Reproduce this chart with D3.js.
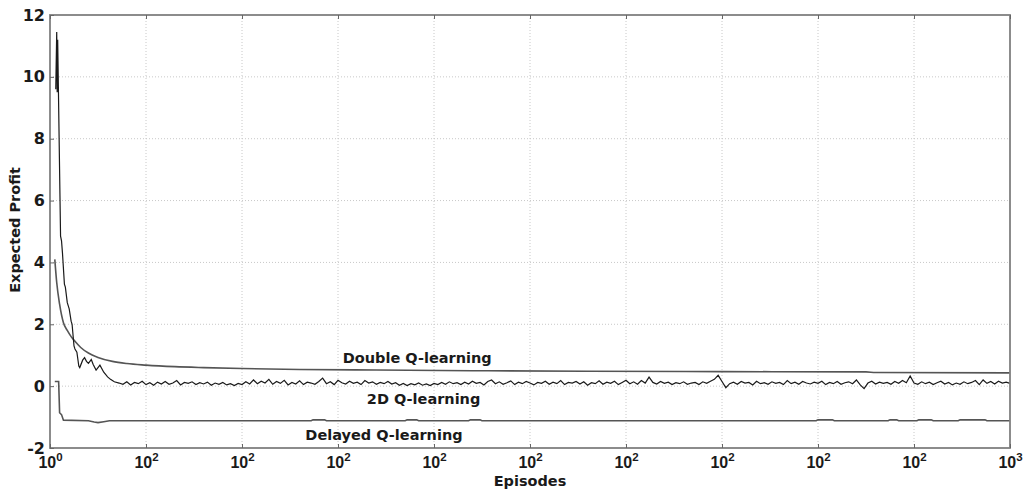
<!DOCTYPE html>
<html>
<head>
<meta charset="utf-8">
<script src="https://cdn.jsdelivr.net/npm/d3@7"></script>
<style>
  body { margin: 0; background: #fff; }
  svg { font-family: "DejaVu Sans", Verdana, sans-serif; font-weight: bold; }
</style>
</head>
<body>
<div id="graph"></div>
<script>
// ---- data ----
var xTicks = [0, 100, 200, 300, 400, 500, 600, 700, 800, 900, 1000];
var xTickBase = "10";
var xTickExp = ["0", "2", "2", "2", "2", "2", "2", "2", "2", "2", "3"];
var yTicks = [-2, 0, 2, 4, 6, 8, 10, 12];

// Double Q-learning (smooth decay)
var doubleEp  = [5, 7, 10, 14, 18, 22, 26, 32, 40, 50, 65, 80, 100, 130, 160, 200, 260, 340, 440, 560, 700, 850, 860, 1000];
var doubleVal = [4.1, 3.35, 2.65, 2.05, 1.8, 1.6, 1.45, 1.25, 1.07, 0.93, 0.8, 0.73, 0.68, 0.63, 0.6, 0.57, 0.54, 0.52, 0.5, 0.48, 0.47, 0.46, 0.44, 0.43];

// 2D Q-learning, early transient
var q2dEarlyEp  = [6, 7, 7.5, 8, 11, 12, 13, 15, 16, 18, 20, 22, 23, 25, 26, 28, 30, 31, 34, 36, 38, 40, 43, 45, 48, 50, 52, 56, 60, 63, 67];
var q2dEarlyVal = [9.6, 11.45, 9.5, 11.2, 4.85, 4.7, 4.3, 3.3, 3.2, 2.7, 2.5, 2.1, 2.0, 1.3, 1.2, 1.1, 0.65, 0.6, 0.84, 0.92, 0.8, 0.74, 0.86, 0.7, 0.52, 0.6, 0.68, 0.45, 0.3, 0.22, 0.14];
// 2D Q-learning, steady part, one value every 4 episodes from episode 72
var q2dSteadyStart = 72, q2dSteadyStep = 4;
var q2dSteadyVal = [
  0.10, 0.06, 0.14, 0.04, 0.12, 0.08, 0.16, 0.05, 0.11, 0.03,
  0.13, 0.07, 0.15, 0.06, 0.10, 0.18, 0.04, 0.12, 0.09, 0.14,
  0.05, 0.11, 0.07, 0.13, 0.03, 0.10, 0.06, 0.12, 0.04, 0.08,
  0.02, 0.09, 0.05, 0.14, 0.07, 0.20, 0.08, 0.16, 0.10, 0.22,
  0.06, 0.15, 0.09, 0.19, 0.04, 0.12, 0.07, 0.17, 0.05, 0.13,
  0.10, 0.06, 0.15, 0.26, 0.08, 0.14, 0.05, 0.19, 0.11, 0.07,
  0.16, 0.09, 0.13, 0.05, 0.18, 0.10, 0.14, 0.06, 0.12, 0.08,
  0.15, 0.07, 0.11, 0.03, 0.09, 0.02, 0.08, 0.04, 0.10, 0.03,
  0.07, 0.02, 0.09, 0.05, 0.12, 0.06, 0.14, 0.08, 0.11, 0.05,
  0.13, 0.07, 0.16, 0.09, 0.12, 0.04, 0.15, 0.20, 0.08, 0.14,
  0.06, 0.11, 0.17, 0.05, 0.13, 0.08, 0.15, 0.10, 0.04, 0.12,
  0.09, 0.16, 0.06, 0.13, 0.08, 0.18, 0.05, 0.12, 0.10, 0.15,
  0.07, 0.14, 0.03, 0.11, 0.08, 0.17, 0.06, 0.13, 0.09, 0.16,
  0.05, 0.12, 0.19, 0.08, 0.14, 0.06, 0.18, 0.10, 0.29, 0.12,
  0.07, 0.15, 0.09, 0.13, 0.05, 0.11, 0.08, 0.14, 0.06, 0.10,
  0.12, 0.05, 0.14, 0.09, 0.16, 0.22, 0.35, 0.15, -0.05, 0.08,
  0.13, 0.06, 0.15, 0.10, 0.12, 0.04, 0.16, 0.08, 0.11, 0.06,
  0.14, 0.09, 0.12, 0.05, 0.18, 0.08, 0.13, 0.06, 0.15, 0.10,
  0.07, 0.13, 0.09, 0.16, 0.05, 0.12, 0.08, 0.15, 0.06, 0.11,
  0.14, 0.08, 0.20, 0.04, -0.08, 0.10, 0.16, 0.07, 0.13, 0.09,
  0.12, 0.06, 0.15, 0.09, 0.18, 0.11, 0.33, 0.10, 0.06, 0.14,
  0.08, 0.13, 0.05, 0.11, 0.16, 0.07, 0.12, 0.04, 0.10, 0.06,
  0.14, 0.08, 0.12, 0.18, 0.05, 0.20, 0.09, 0.15, 0.07, 0.16,
  0.10, 0.13, 0.09
];

// Delayed Q-learning (drops, then flat with small dashes)
var delayedEp  = [5, 9, 10, 12, 14, 40, 46, 50, 56, 62, 150, 272, 274, 286, 288, 370, 372, 382, 384, 436, 438, 448, 450, 600, 798, 800, 815, 817, 873, 875, 882, 884, 903, 905, 918, 920, 946, 948, 974, 976, 1000];
var delayedVal = [0.15, 0.15, -0.86, -0.92, -1.1, -1.12, -1.16, -1.18, -1.15, -1.12, -1.12, -1.12, -1.09, -1.09, -1.12, -1.12, -1.09, -1.09, -1.12, -1.12, -1.09, -1.09, -1.12, -1.12, -1.12, -1.09, -1.09, -1.12, -1.12, -1.09, -1.09, -1.12, -1.12, -1.09, -1.09, -1.12, -1.12, -1.09, -1.09, -1.12, -1.12];

// curve labels: text, episode, value (baseline)
var labelText = ["Double Q-learning", "2D Q-learning", "Delayed Q-learning"];
var labelEp   = [305, 330, 266];
var labelVal  = [0.74, -0.58, -1.75];

// ---- layout ----
var margin = {top: 15, right: 25, bottom: 41, left: 50},
    width = 1035 - margin.left - margin.right,
    height = 489 - margin.top - margin.bottom;

var svg = d3.select("#graph")
  .append("svg")
    .attr("width", 1035)
    .attr("height", 489)
  .append("g")
    .attr("transform", "translate(" + margin.left + "," + margin.top + ")");

var x = d3.scaleLinear().domain([0, 1000]).range([0, width]);
var y = d3.scaleLinear().domain([-2, 12]).range([height, 0]);

// gridlines
svg.append("g").selectAll("line.vg")
  .data(xTicks.slice(1, -1)).enter().append("line")
    .attr("x1", function(d) { return x(d); })
    .attr("x2", function(d) { return x(d); })
    .attr("y1", 0).attr("y2", height)
    .attr("stroke", "#c8c8c8").attr("stroke-width", 1)
    .attr("stroke-dasharray", "1,2");
svg.append("g").selectAll("line.hg")
  .data(yTicks.slice(1, -1)).enter().append("line")
    .attr("x1", 0).attr("x2", width)
    .attr("y1", function(d) { return y(d); })
    .attr("y2", function(d) { return y(d); })
    .attr("stroke", "#c8c8c8").attr("stroke-width", 1)
    .attr("stroke-dasharray", "1,2");

// build series
var doubleData = doubleEp.map(function(e, i) { return [e, doubleVal[i]]; });
var q2dData = q2dEarlyEp.map(function(e, i) { return [e, q2dEarlyVal[i]]; })
  .concat(q2dSteadyVal.map(function(v, i) { return [q2dSteadyStart + i * q2dSteadyStep, v]; }));
var delayedData = delayedEp.map(function(e, i) { return [e, delayedVal[i]]; });

var line = d3.line()
  .x(function(d) { return x(d[0]); })
  .y(function(d) { return y(d[1]); });

svg.append("path").datum(delayedData)
  .attr("fill", "none").attr("stroke", "#555").attr("stroke-width", 1.6)
  .attr("d", line);
svg.append("path").datum(doubleData)
  .attr("fill", "none").attr("stroke", "#555").attr("stroke-width", 1.6)
  .attr("d", line.curve(d3.curveMonotoneX));
svg.append("path").datum(q2dData)
  .attr("fill", "none").attr("stroke", "#1a1a1a").attr("stroke-width", 1.2)
  .attr("d", line.curve(d3.curveLinear));

// frame
svg.append("rect")
  .attr("x", 0).attr("y", 0).attr("width", width).attr("height", height)
  .attr("fill", "none").attr("stroke", "#808080").attr("stroke-width", 1.8);

// axes (inward ticks)
var xAxis = svg.append("g")
  .attr("transform", "translate(0," + height + ")")
  .call(d3.axisBottom(x).tickValues(xTicks).tickSize(-4).tickFormat(""));
svg.append("g")
  .call(d3.axisTop(x).tickValues(xTicks).tickSize(-4).tickFormat(""));
svg.append("g")
  .call(d3.axisLeft(y).tickValues(yTicks).tickSize(-4)
    .tickFormat(function(d) { return d; }));
svg.selectAll(".domain").remove();
svg.selectAll(".tick line").attr("stroke", "#666");
svg.selectAll(".tick text")
  .attr("font-family", "'DejaVu Sans', Verdana, sans-serif")
  .attr("font-weight", "bold").attr("font-size", 16).attr("fill", "#1a1a1a")
  .attr("x", -5);

// x tick labels with superscripts
var xl = xAxis.selectAll(".tick")
  .append("text")
    .attr("y", 20)
    .attr("text-anchor", "middle")
    .attr("font-size", 16)
    .attr("fill", "#1a1a1a");
xl.append("tspan").text(xTickBase);
xl.append("tspan")
  .attr("dy", -7).attr("font-size", 11.5)
  .text(function(d) { return xTickExp[xTicks.indexOf(d)]; });

// curve labels
svg.selectAll("text.curve")
  .data(labelText).enter().append("text")
    .attr("x", function(d, i) { return x(labelEp[i]); })
    .attr("y", function(d, i) { return y(labelVal[i]); })
    .attr("font-size", 14.5)
    .attr("fill", "#1a1a1a")
    .text(function(d) { return d; });

// axis titles
svg.append("text")
  .attr("x", width / 2).attr("y", height + 38)
  .attr("text-anchor", "middle").attr("font-size", 14.5).attr("fill", "#1a1a1a")
  .text("Episodes");
svg.append("text")
  .attr("transform", "translate(" + (-30) + "," + y(5.05) + ") rotate(-90)")
  .attr("text-anchor", "middle").attr("font-size", 14.5).attr("fill", "#1a1a1a")
  .text("Expected Profit");
</script>
</body>
</html>
